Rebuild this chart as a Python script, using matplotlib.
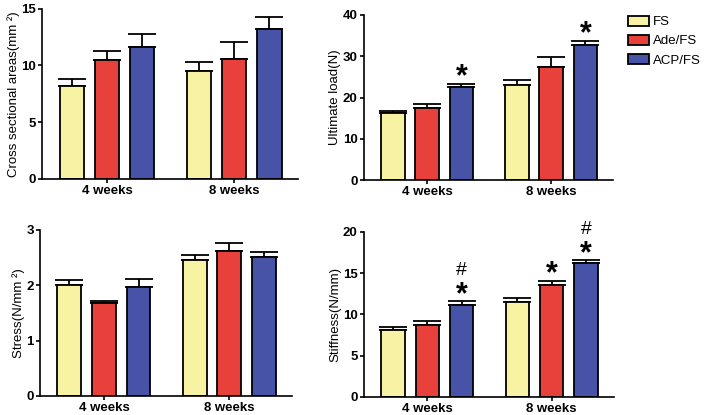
import numpy as np
import matplotlib
matplotlib.use("Agg")
import matplotlib.pyplot as plt
from matplotlib.patches import Patch

groups = ["4 weeks", "8 weeks"]
series = ["FS", "Ade/FS", "ACP/FS"]
colors = ["#F7F3A3", "#E8403B", "#4753A6"]

# means and upper error (SD) per series, [4 weeks, 8 weeks]
area_mean = [[8.15, 9.5], [10.45, 10.6], [11.6, 13.2]]
area_err = [[0.65, 0.8], [0.85, 1.45], [1.15, 1.05]]
load_mean = [[16.2, 23.0], [17.5, 27.3], [22.5, 32.6]]
load_err = [[0.5, 1.2], [1.0, 2.4], [0.8, 1.2]]
stress_mean = [[2.01, 2.46], [1.68, 2.62], [1.97, 2.51]]
stress_err = [[0.08, 0.09], [0.04, 0.14], [0.14, 0.1]]
stiff_mean = [[8.1, 11.5], [8.7, 13.6], [11.15, 16.3]]
stiff_err = [[0.4, 0.55], [0.5, 0.5], [0.45, 0.25]]

# significance marks: (series index, group index, text)
load_marks = [(2, 0, "*"), (2, 1, "*")]
stiff_marks = [(2, 0, "*"), (2, 0, "#"), (1, 1, "*"), (2, 1, "*"), (2, 1, "#")]

plt.rcParams["font.family"] = ["Liberation Sans", "DejaVu Sans"]
plt.rcParams["font.weight"] = "bold"
plt.rcParams["axes.linewidth"] = 1.2

fig = plt.figure(figsize=(7.08, 4.15), dpi=100)

STRIDE = 0.276
WIDTH = 0.19


def panel(rect, means, errs, ylim, yticks, ylabel, marks=()):
    ax = fig.add_axes(rect)
    x = np.arange(len(groups))
    for i in range(len(series)):
        pos = x + (i - 1) * STRIDE
        ax.bar(pos, means[i], WIDTH, color=colors[i], edgecolor="black",
               linewidth=1.3, zorder=2)
        ax.errorbar(pos, means[i], yerr=[np.zeros(len(groups)), errs[i]],
                    fmt="none", ecolor="black", elinewidth=1.3, capsize=10,
                    capthick=1.3, zorder=1)
    for i, g, txt in marks:
        top = means[i][g] + errs[i][g]
        off = 4.5 if txt == "*" else 22.5
        ax.annotate(txt, (x[g] + (i - 1) * STRIDE, top), xytext=(0, off),
                    textcoords="offset points", ha="center", va="center",
                    fontsize=22 if txt == "*" else 14,
                    fontweight="bold" if txt == "*" else "normal",
                    annotation_clip=False)
    ax.set_xlim(-0.51, 1.5)
    ax.set_ylim(*ylim)
    ax.set_yticks(yticks)
    ax.set_xticks(x)
    ax.set_xticklabels(groups)
    ax.set_ylabel(ylabel, fontsize=9.5, labelpad=1)
    ax.tick_params(labelsize=9.5, width=1.2, length=3, pad=1.5)
    ax.spines["top"].set_visible(False)
    ax.spines["right"].set_visible(False)
    return ax


panel([0.0593, 0.569, 0.3616, 0.41], area_mean, area_err, (0, 15), [0, 5, 10, 15],
      "Cross sectional areas(mm ²)")
panel([0.514, 0.566, 0.352, 0.398], load_mean, load_err, (0, 40), [0, 10, 20, 30, 40],
      "Ultimate load(N)", load_marks)
panel([0.0565, 0.0458, 0.356, 0.4], stress_mean, stress_err, (0, 3), [0, 1, 2, 3],
      "Stress(N/mm ²)")
panel([0.514, 0.0434, 0.353, 0.3976], stiff_mean, stiff_err, (0, 20), [0, 5, 10, 15, 20],
      "Stiffness(N/mm)", stiff_marks)

handles = [Patch(facecolor=c, edgecolor="black", linewidth=1.3) for c in colors]
leg = fig.legend(handles, series, loc="upper left", bbox_to_anchor=(0.87, 0.99),
                 frameon=False, handlelength=1.6, handleheight=0.75,
                 labelspacing=0.5, handletextpad=0.3,
                 prop={"size": 9.5, "weight": "normal"})

fig.savefig("out.png", dpi=100)
